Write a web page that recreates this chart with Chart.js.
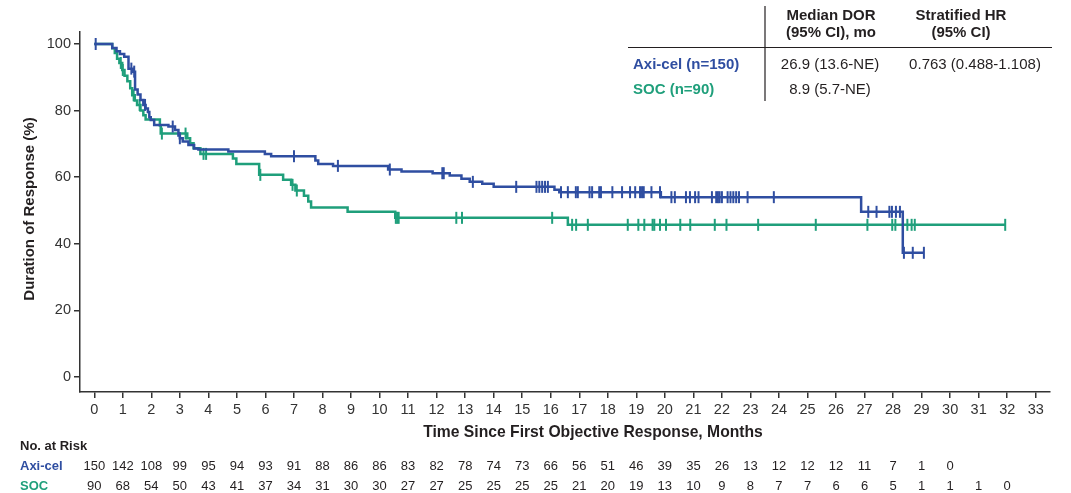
<!DOCTYPE html>
<html><head><meta charset="utf-8">
<script src="https://cdn.jsdelivr.net/npm/chart.js@4.4.1/dist/chart.umd.min.js"></script>
<style>html,body{margin:0;padding:0;background:#fff;}#wrap{position:relative;width:1071px;height:493px;}</style>
</head><body><div id="wrap"><canvas id="c" width="1071" height="493"></canvas></div>
<script>
// ---- data ----
const xTickValues = [0,1,2,3,4,5,6,7,8,9,10,11,12,13,14,15,16,17,18,19,20,21,22,23,24,25,26,27,28,29,30,31,32,33];
const yTickValues = [0,20,40,60,80,100];

const axiStepTimes = [0,0.63,0.78,0.9,1.05,1.2,1.36,1.43,1.52,1.62,1.72,1.8,1.88,1.93,1.98,2.1,2.6,2.83,2.95,3.0,3.1,3.3,3.5,3.65,4.7,5.98,6.2,7.75,7.85,8.37,10.3,10.77,11.86,12.46,12.87,13.16,13.6,14.0,16.13,16.3,19.86,26.88,28.34];
const axiStepSurv  = [100,98.8,97.8,97.0,96.2,92.6,91.7,86.3,84.8,83.2,81.7,80.6,79.6,78.0,77.2,75.7,75.2,74.2,72.5,71.7,70.7,69.7,68.6,68.3,67.7,67.0,66.3,65.0,64.0,63.4,62.3,61.7,61.2,60.5,59.5,58.6,58.0,57.1,56.2,55.5,54.0,49.6,37.3];
const axiCensor = [0.05,1.3,1.4,1.78,2.75,3.0,7.0,8.54,10.36,12.2,12.25,13.27,14.79,15.5,15.6,15.7,15.8,15.9,16.36,16.6,16.88,16.95,17.36,17.45,17.7,17.76,18.16,18.5,18.78,18.96,19.13,19.2,19.26,19.53,19.83,20.23,20.35,20.74,20.88,21.06,21.18,21.65,21.8,21.86,21.92,22.0,22.2,22.3,22.4,22.5,22.6,22.9,23.82,27.13,27.42,27.87,27.96,28.1,28.24,28.38,28.69,29.08];

const socStepTimes = [0,0.63,0.72,0.8,0.88,0.98,1.06,1.16,1.26,1.33,1.42,1.5,1.62,1.72,1.8,2.3,2.33,3.26,3.36,3.48,3.72,4.86,4.98,5.78,6.62,6.9,7.05,7.35,7.5,7.6,8.88,10.55,16.6];
const socStepSurv  = [100,98.7,97.3,95.6,94.3,92.2,90.5,88.8,86.7,84.6,83.0,81.7,80.0,78.6,77.3,75.5,73.1,71.7,70.2,68.7,67.0,65.6,64.0,60.7,59.2,57.7,56.0,54.4,52.7,50.9,49.6,47.8,45.7];
const socCensor = [0.93,1.0,1.38,1.59,2.37,3.2,3.83,3.92,5.82,6.95,7.1,10.57,10.62,10.67,12.69,12.89,16.05,16.75,16.89,17.3,18.7,19.07,19.28,19.57,19.63,19.83,20.04,20.54,20.89,21.75,22.16,23.27,25.29,27.1,27.97,28.08,28.5,28.65,28.76,31.93];

const riskTimes = [0,1,2,3,4,5,6,7,8,9,10,11,12,13,14,15,16,17,18,19,20,21,22,23,24,25,26,27,28,29,30,31,32];
const axiRisk = [150,142,108,99,95,94,93,91,88,86,86,83,82,78,74,73,66,56,51,46,39,35,26,13,12,12,12,11,7,1,0];
const socRisk = [90,68,54,50,43,41,37,34,31,30,30,27,27,25,25,25,25,21,20,19,13,10,9,8,7,7,6,6,5,1,1,1,0];

const seriesNames = ['Axi-cel', 'SOC'];
const legendLabels = ['Axi-cel (n=150)', 'SOC (n=90)'];
const medianDOR = ['26.9 (13.6-NE)', '8.9 (5.7-NE)'];
const hrText = ['0.763 (0.488-1.108)', ''];

// ---- helpers ----
const BLUE = '#2f4ea1', GREEN = '#1f9f7b', INK = '#231f20', AX = '#333333';
function survAt(times, surv, t){ let s = surv[0]; for (let i=0;i<times.length;i++){ if (times[i] <= t) s = surv[i]; } return s; }
function stepData(times, surv, end){ const d = times.map((t,i)=>({x:t,y:surv[i]})); d.push({x:end,y:surv[surv.length-1]}); return d; }
function censorData(times, surv, cens){ return cens.map(t=>({x:t,y:survAt(times,surv,t)})); }

const axiLine = stepData(axiStepTimes, axiStepSurv, axiCensor[axiCensor.length-1]);
const socLine = stepData(socStepTimes, socStepSurv, socCensor[socCensor.length-1]);

const FONT = '"Liberation Sans", Arial, sans-serif';

const annot = {
  id: 'annot',
  afterDraw(chart){
    const ctx = chart.ctx, xs = chart.scales.x, area = chart.chartArea;
    ctx.save();
    ctx.fillStyle = INK;
    // x title
    ctx.font = 'bold 15.7px ' + FONT;
    ctx.textAlign = 'center'; ctx.textBaseline = 'middle';
    ctx.fillText('Time Since First Objective Response, Months', 593, 433);
    // y title
    ctx.font = 'bold 15px ' + FONT;
    ctx.save();
    ctx.translate(30, 209);
    ctx.rotate(-Math.PI/2);
    ctx.fillText('Duration of Response (%)', 0, 0);
    ctx.restore();
    // risk table
    ctx.font = 'bold 13px ' + FONT; ctx.textAlign = 'left';
    ctx.fillText('No. at Risk', 20, 446);
    ctx.fillStyle = BLUE; ctx.fillText(seriesNames[0], 20, 466);
    ctx.fillStyle = GREEN; ctx.fillText(seriesNames[1], 20, 486);
    ctx.font = '13px ' + FONT; ctx.textAlign = 'center'; ctx.fillStyle = INK;
    axiRisk.forEach((v,i)=> ctx.fillText(String(v), xs.getPixelForValue(riskTimes[i]), 466));
    socRisk.forEach((v,i)=> ctx.fillText(String(v), xs.getPixelForValue(riskTimes[i]), 486));
    // header table
    ctx.strokeStyle = INK; ctx.lineWidth = 1.2;
    ctx.beginPath(); ctx.moveTo(765, 6); ctx.lineTo(765, 101); ctx.stroke();
    ctx.beginPath(); ctx.moveTo(628, 47.5); ctx.lineTo(1052, 47.5); ctx.stroke();
    ctx.font = 'bold 15px ' + FONT; ctx.textAlign = 'center';
    ctx.fillText('Median DOR', 831, 16);
    ctx.fillText('(95% CI), mo', 831, 33);
    ctx.fillText('Stratified HR', 961, 16);
    ctx.fillText('(95% CI)', 961, 33);
    ctx.textAlign = 'left';
    ctx.fillStyle = BLUE; ctx.fillText(legendLabels[0], 633, 65);
    ctx.fillStyle = GREEN; ctx.fillText(legendLabels[1], 633, 90);
    ctx.font = '15px ' + FONT; ctx.fillStyle = INK; ctx.textAlign = 'center';
    ctx.fillText(medianDOR[0], 830, 65);
    ctx.fillText(medianDOR[1], 830, 90);
    ctx.fillText(hrText[0], 975, 65);
    ctx.restore();
  }
};

new Chart(document.getElementById('c'), {
  type: 'line',
  data: {
    datasets: [
      { label: 'Axi-cel', data: axiLine, stepped: true, borderColor: BLUE, borderWidth: 2.5, pointRadius: 0, fill: false, order: 1 },
      { label: 'SOC', data: socLine, stepped: true, borderColor: GREEN, borderWidth: 2.5, pointRadius: 0, fill: false, order: 2 },
      { label: 'Axi-cel censored', data: censorData(axiStepTimes, axiStepSurv, axiCensor), showLine: false, pointStyle: 'line', rotation: 90, pointRadius: 6, pointBorderWidth: 2, borderColor: BLUE, backgroundColor: BLUE, order: 0 },
      { label: 'SOC censored', data: censorData(socStepTimes, socStepSurv, socCensor), showLine: false, pointStyle: 'line', rotation: 90, pointRadius: 6, pointBorderWidth: 2, borderColor: GREEN, backgroundColor: GREEN, order: 1 }
    ]
  },
  options: {
    responsive: false, animation: false, devicePixelRatio: 1,
    layout: { padding: { top: 32, right: 21, left: 0, bottom: 0 } },
    plugins: { legend: { display: false }, tooltip: { enabled: false }, title: { display: false } },
    scales: {
      x: {
        type: 'linear', min: -0.5, max: 33.5,
        afterBuildTicks: s => { s.ticks = xTickValues.map(v=>({value:v})); },
        afterFit: s => { s.height = 101; },
        grid: { display: true, drawOnChartArea: false, drawTicks: true, tickLength: 6, color: AX, lineWidth: 1.5 },
        border: { display: true, color: AX, width: 1.5 },
        ticks: { autoSkip: false, maxRotation: 0, padding: 3, color: '#333', font: { family: FONT, size: 14.5 } }
      },
      y: {
        type: 'linear', min: -4.5, max: 103.6,
        afterBuildTicks: s => { s.ticks = yTickValues.map(v=>({value:v})); },
        afterFit: s => { s.width = 80; },
        grid: { display: true, drawOnChartArea: false, drawTicks: true, tickLength: 6, color: AX, lineWidth: 1.5 },
        border: { display: true, color: AX, width: 1.5 },
        ticks: { padding: 3, color: '#333', font: { family: FONT, size: 14.5 } }
      }
    }
  },
  plugins: [annot]
});
</script>
</body></html>
